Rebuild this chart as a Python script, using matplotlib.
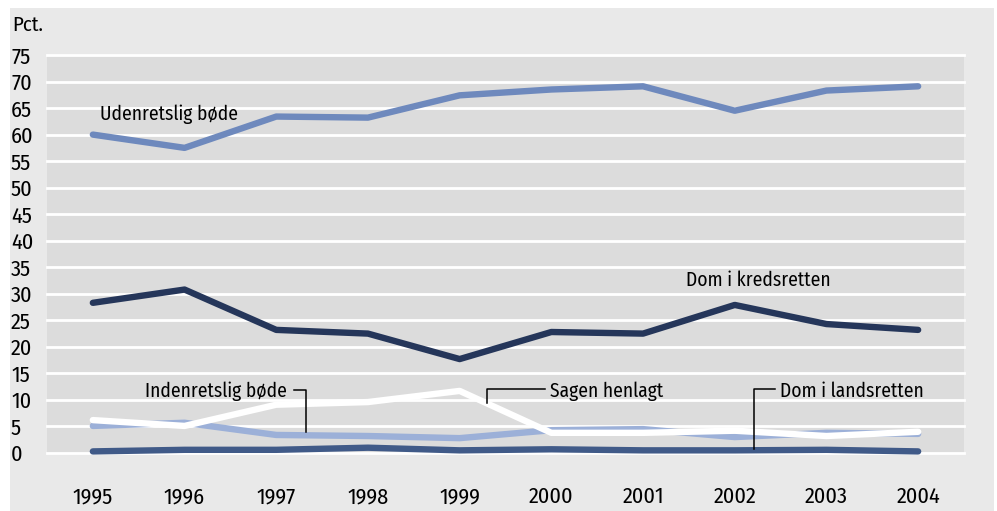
import matplotlib
matplotlib.use("Agg")
import matplotlib.pyplot as plt
from matplotlib.patches import Rectangle

years = [1995, 1996, 1997, 1998, 1999, 2000, 2001, 2002, 2003, 2004]
udenretslig = [60.0, 57.5, 63.4, 63.2, 67.4, 68.5, 69.1, 64.5, 68.3, 69.1]
kredsretten = [28.3, 30.8, 23.2, 22.5, 17.7, 22.8, 22.5, 27.9, 24.3, 23.2]
henlagt = [6.2, 5.1, 9.1, 9.6, 11.7, 3.8, 3.8, 4.2, 3.2, 4.0]
indenretslig = [5.1, 5.7, 3.4, 3.2, 2.8, 4.3, 4.5, 3.0, 3.8, 3.6]
landsretten = [0.3, 0.6, 0.6, 1.0, 0.5, 0.7, 0.5, 0.5, 0.6, 0.3]
yticks = list(range(0, 80, 5))

plt.rcParams['font.family'] = ['Fira Sans Condensed', 'DejaVu Sans']

W, H = 997, 511
fig = plt.figure(figsize=(W / 100, H / 100), dpi=100, facecolor='white')
bg = Rectangle((10 / W, 0), (994 - 10) / W, (511 - 8) / H,
               transform=fig.transFigure, facecolor='#e9e9e9',
               edgecolor='none', zorder=-10)
fig.add_artist(bg)

ax = fig.add_axes([47 / W, (H - 453) / H, (964 - 47) / W, (453 - 55) / H])
ax.set_facecolor('#dcdcdc')
ax.set_xlim(1994.5, 2004.5)
ax.set_ylim(0, 75)
for s in ax.spines.values():
    s.set_visible(False)
for y in yticks:
    ax.axhline(y, color='white', lw=2.0, zorder=1, clip_on=False)

lw = 4.6
kw = dict(lw=lw, solid_capstyle='round', solid_joinstyle='round', clip_on=False)
ax.plot(years, landsretten, color='#405a88', zorder=3, **kw)
ax.plot(years, indenretslig, color='#9cb0d8', zorder=4, **kw)
ax.plot(years, henlagt, color='white', zorder=5, **kw)
ax.plot(years, kredsretten, color='#25365a', zorder=3, **kw)
ax.plot(years, udenretslig, color='#6e89bd', zorder=3, **kw)

ax.set_xticks(years)
ax.set_xticklabels([str(y) for y in years])
ax.set_yticks(yticks)
ax.set_yticklabels([str(y) for y in yticks])
ax.tick_params(axis='both', length=0, labelsize=16, colors='black')
ax.tick_params(axis='x', pad=24)
ax.tick_params(axis='y', pad=(47 - 11) * 0.72)
for lab in ax.get_yticklabels():
    lab.set_horizontalalignment('left')

fig.text(12 / W, 1 - 25 / H, 'Pct.', fontsize=15, va='center', ha='left')

fs = 14
ax.text(1995.08, 63.8, 'Udenretslig bøde', fontsize=fs, va='center', ha='left', zorder=6)
ax.text(2001.47, 32.5, 'Dom i kredsretten', fontsize=fs, va='center', ha='left', zorder=6)
ax.text(1995.57, 11.7, 'Indenretslig bøde', fontsize=fs, va='center', ha='left', zorder=6)
ax.plot([1997.19, 1997.32, 1997.32], [11.9, 11.9, 4.0], color='black', lw=1.1, zorder=6)
ax.text(1999.99, 11.7, 'Sagen henlagt', fontsize=fs, va='center', ha='left', zorder=6)
ax.plot([1999.93, 1999.30, 1999.30], [12.1, 12.1, 9.4], color='black', lw=1.1, zorder=6)
ax.text(2002.49, 11.7, 'Dom i landsretten', fontsize=fs, va='center', ha='left', zorder=6)
ax.plot([2002.44, 2002.21, 2002.21], [12.1, 12.1, 0.75], color='black', lw=1.1, zorder=6)

fig.savefig('out.png', dpi=100, facecolor='white')
